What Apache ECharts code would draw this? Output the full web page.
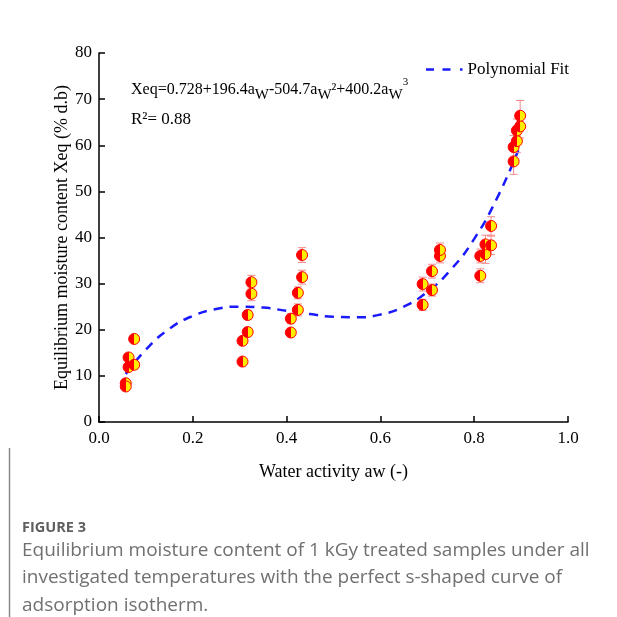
<!DOCTYPE html>
<html>
<head>
<meta charset="utf-8">
<script src="https://cdn.jsdelivr.net/npm/echarts@6/dist/echarts.min.js"></script>
<style>
    html, body { margin: 0; padding: 0; background: #fff; }
    #chart { width: 617px; height: 617px; }
</style>
</head>
<body>
<div id="chart"></div>
<script>
// measured points: water activity, moisture content, error bar half-length
const aw = [0.057, 0.057, 0.063, 0.063, 0.075, 0.075,
            0.306, 0.306, 0.317, 0.317, 0.325, 0.325,
            0.409, 0.409, 0.424, 0.424, 0.433, 0.433,
            0.690, 0.690, 0.710, 0.710, 0.727, 0.727,
            0.813, 0.813, 0.824, 0.824, 0.836, 0.836,
            0.884, 0.884, 0.891, 0.891, 0.898, 0.898];
const xeq = [8.4, 7.7, 14.0, 11.9, 18.0, 12.4,
             13.1, 17.6, 19.5, 23.2, 27.8, 30.3,
             19.4, 22.4, 24.3, 28.0, 31.4, 36.2,
             25.4, 29.9, 28.6, 32.7, 36.0, 37.3,
             31.7, 36.0, 36.4, 38.5, 38.3, 42.5,
             56.5, 59.6, 60.9, 63.2, 64.1, 66.4];
const err = [0.4, 0.4, 0.5, 0.5, 0.5, 0.5,
             0.5, 0.5, 0.8, 1.0, 1.5, 1.5,
             0.6, 1.0, 1.3, 1.3, 1.5, 1.6,
             1.2, 1.5, 1.3, 1.5, 1.5, 1.5,
             1.5, 1.5, 2.0, 2.0, 2.0, 2.0,
             2.8, 2.5, 2.5, 2.5, 2.5, 3.3];

// polynomial fit curve
const fitAw = [0.057, 0.10, 0.15, 0.20, 0.25, 0.30, 0.35, 0.40, 0.45, 0.50,
               0.55, 0.60, 0.65, 0.70, 0.75, 0.80, 0.85, 0.894];
const fitXeq = [10.4, 15.7, 20.2, 23.0, 24.5, 25.0, 24.8, 24.1, 23.4, 22.8,
                22.7, 23.3, 25.0, 28.2, 33.0, 39.7, 48.8, 58.9];

const captionLines = [
    'Equilibrium moisture content of 1 kGy treated samples under all',
    'investigated temperatures with the perfect s-shaped curve of',
    'adsorption isotherm.'
];

const serif = '"Liberation Serif", "Times New Roman", serif';

const points = aw.map((x, i) => [x, xeq[i]]);
const bars = aw.map((x, i) => [x, xeq[i] - err[i], xeq[i] + err[i]]);
const fit = fitAw.map((x, i) => [x, fitXeq[i]]);

const chart = echarts.init(document.getElementById('chart'));

const half = new echarts.graphic.LinearGradient(0, 0, 1, 0, [
    { offset: 0, color: '#ff0000' },
    { offset: 0.5, color: '#ff0000' },
    { offset: 0.5, color: '#ffee00' },
    { offset: 1, color: '#ffee00' }
]);

const caption = captionLines.map((t, i) => ({
    type: 'text', left: 22, top: 541 + i * 27.5,
    style: { text: t, font: '19px "Open Sans", sans-serif', fill: '#707070' }
}));

// "- - ." legend key
const dashIcon = 'path://M0,0H8V2.5H0Z M16.5,0H24.5V2.5H16.5Z M34,0H36.5V2.5H34Z';

chart.setOption({
    animation: false,
    grid: { left: 99, right: 49, top: 53, bottom: 195 },
    xAxis: {
        type: 'value', min: 0, max: 1, interval: 0.2,
        name: 'Water activity aw (-)', nameLocation: 'middle', nameGap: 41,
        nameTextStyle: { fontFamily: serif, fontSize: 18, color: '#000' },
        axisLine: { lineStyle: { color: '#000', width: 1.5 } },
        axisTick: { inside: true, length: 6, lineStyle: { color: '#000', width: 1.5 } },
        axisLabel: { fontFamily: serif, fontSize: 17, color: '#000', margin: 8,
                     formatter: v => v.toFixed(1) },
        splitLine: { show: false }
    },
    yAxis: {
        type: 'value', min: 0, max: 80, interval: 10,
        name: 'Equilibrium moisture content Xeq (% d.b)', nameLocation: 'middle', nameGap: 28,
        nameMoveOverlap: false,
        nameTextStyle: { fontFamily: serif, fontSize: 18, color: '#000' },
        axisLine: { show: true, lineStyle: { color: '#000', width: 1.5 } },
        axisTick: { show: true, inside: true, length: 6, lineStyle: { color: '#000', width: 1.5 } },
        axisLabel: { fontFamily: serif, fontSize: 17, color: '#000', margin: 7 },
        splitLine: { show: false }
    },
    legend: {
        data: [{ name: 'Polynomial Fit', icon: dashIcon }], left: 421, top: 56,
        itemWidth: 36.5, itemHeight: 2.5, itemGap: 9.5,
        itemStyle: { color: '#1a1aff' },
        textStyle: { fontFamily: serif, fontSize: 17, color: '#000' }
    },
    graphic: [
        {
            type: 'text', left: 131, top: 77,
            style: {
                text: '{b|Xeq=0.728+196.4a}{s|W}{b|-504.7a}{s|W}{b|²+400.2a}{s|W}{p|3}',
                rich: {
                    b: { font: '16px ' + serif, fill: '#000', lineHeight: 26, verticalAlign: 'middle' },
                    s: { font: '15px ' + serif, fill: '#000', lineHeight: 26, verticalAlign: 'bottom' },
                    p: { font: '11px ' + serif, fill: '#000', lineHeight: 26, verticalAlign: 'top' }
                }
            }
        },
        {
            type: 'text', left: 131, top: 111,
            style: { text: 'R²= 0.88', font: '17px ' + serif, fill: '#000' }
        },
        {
            type: 'text', left: 22, top: 520,
            style: { text: 'FIGURE 3', font: 'bold 14.5px "Open Sans", sans-serif', fill: '#5f5f5f' }
        },
        {
            type: 'line', shape: { x1: 9.5, y1: 448, x2: 9.5, y2: 617 },
            style: { stroke: '#8a8a8a', lineWidth: 1.5 }
        }
    ].concat(caption),
    series: [
        {
            name: 'Polynomial Fit', type: 'line', data: fit, smooth: true,
            symbol: 'none', z: 3,
            itemStyle: { color: '#1a1aff' },
            lineStyle: { color: '#1a1aff', width: 2.5, type: [9, 7] }
        },
        {
            type: 'custom', data: bars, z: 4,
            encode: { x: 0, y: [1, 2] },
            renderItem: function (params, api) {
                const x = api.value(0);
                const lo = api.coord([x, api.value(1)]);
                const hi = api.coord([x, api.value(2)]);
                const w = 4;
                const style = { stroke: '#f28a8a', lineWidth: 1 };
                return {
                    type: 'group',
                    children: [
                        { type: 'line', shape: { x1: hi[0], y1: hi[1], x2: lo[0], y2: lo[1] }, style: style },
                        { type: 'line', shape: { x1: hi[0] - w, y1: hi[1], x2: hi[0] + w, y2: hi[1] }, style: style },
                        { type: 'line', shape: { x1: lo[0] - w, y1: lo[1], x2: lo[0] + w, y2: lo[1] }, style: style }
                    ]
                };
            }
        },
        {
            type: 'scatter', data: points, symbol: 'circle', symbolSize: 11, z: 5,
            itemStyle: { color: half, borderColor: '#ff0000', borderWidth: 1, opacity: 1 }
        }
    ]
});
</script>
</body>
</html>
